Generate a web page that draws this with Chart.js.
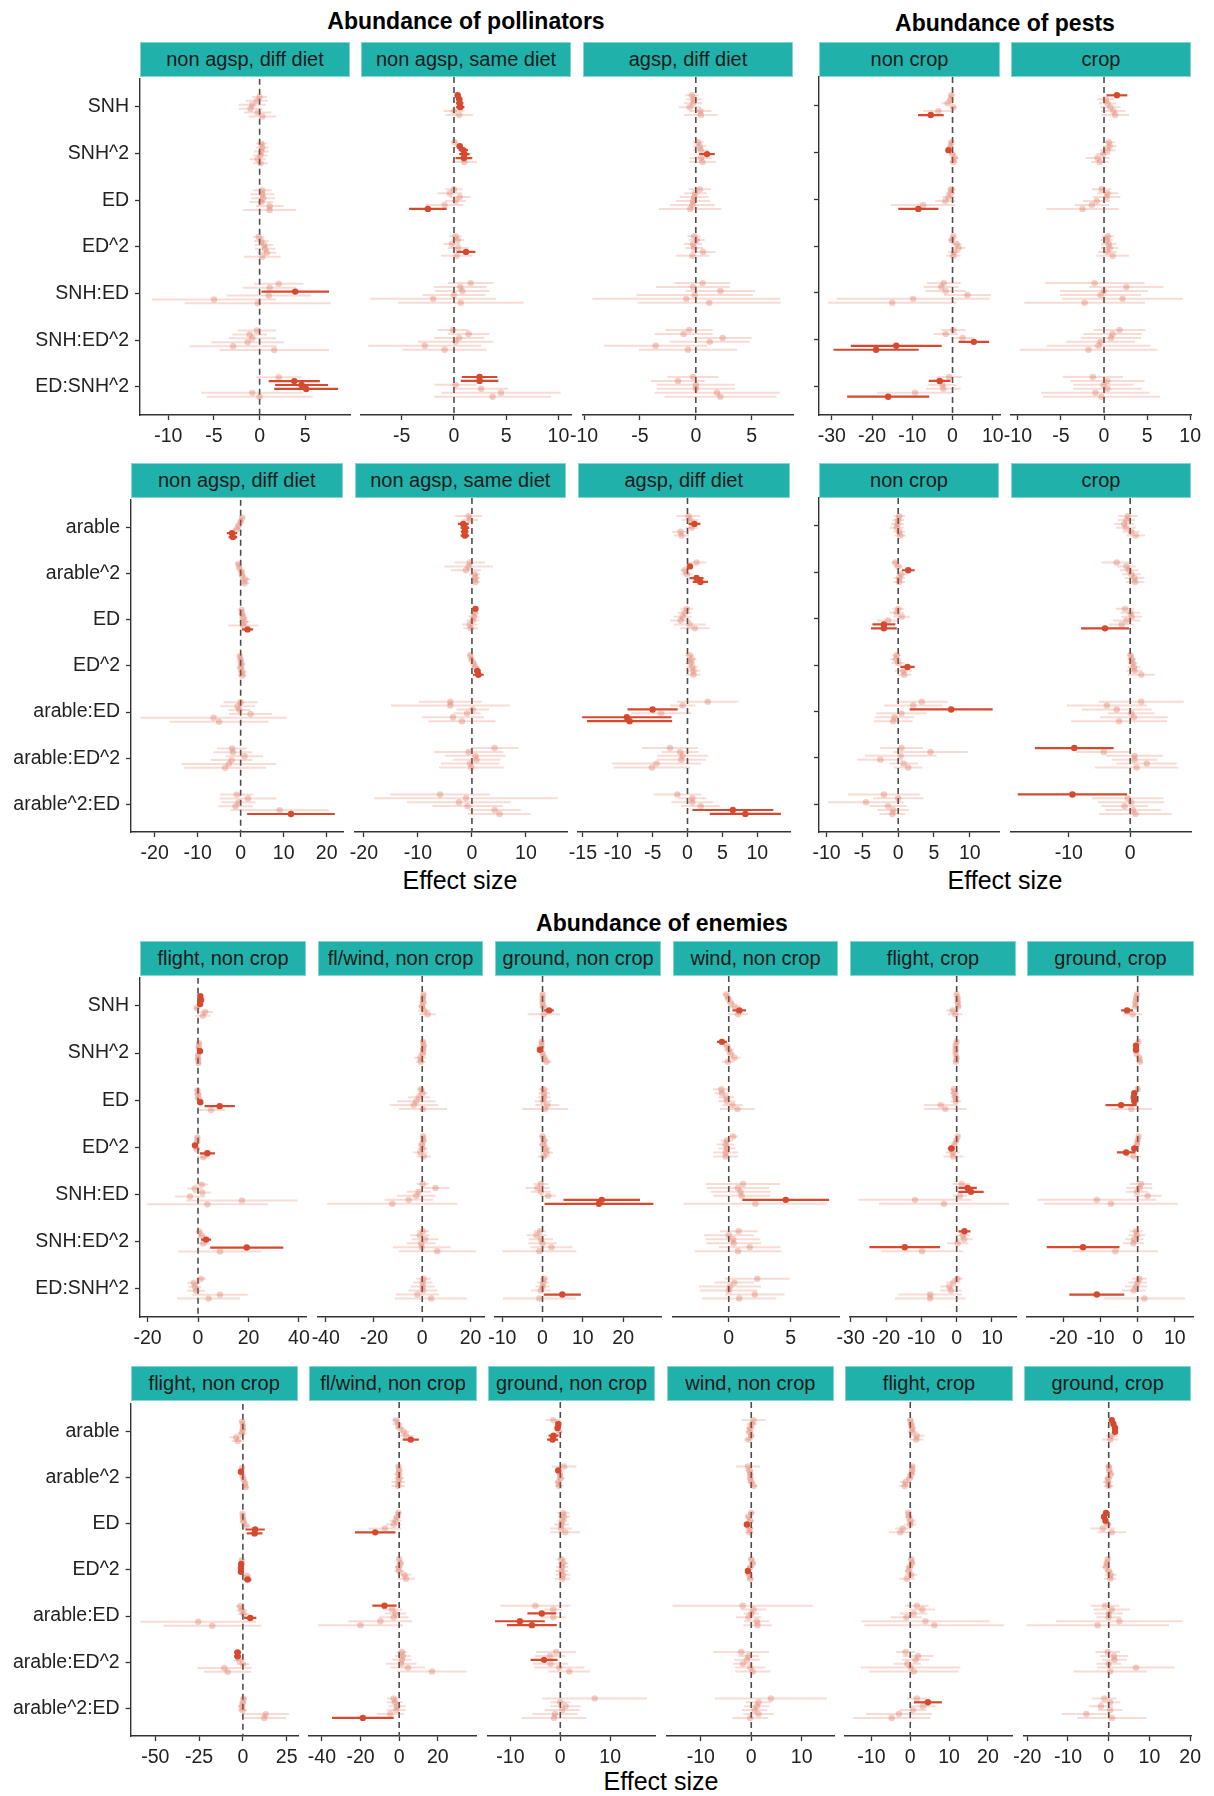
<!DOCTYPE html>
<html>
<head>
<meta charset="utf-8">
<script src="https://cdn.jsdelivr.net/npm/chart.js@4.4.1/dist/chart.umd.min.js"></script>
<style>
  body { margin: 0; background: #fff; }
  #page { position: relative; width: 1214px; height: 1796px; font-family: "Liberation Sans", Arial, sans-serif; overflow: hidden; }
  .title { position: absolute; font-weight: bold; font-size: 23px; line-height: 26px; color: #000; white-space: nowrap; transform: translateX(-50%); }
  .strip { position: absolute; background: #20b2aa; box-sizing: border-box; border: 1px solid #86d6cf; height: 35px;
           display: flex; align-items: center; justify-content: center; font-size: 20px; color: #1a1a1a; white-space: nowrap; }
  .axtitle { position: absolute; font-size: 25px; color: #000; white-space: nowrap; transform: translate(-50%, -50%); }
  canvas { position: absolute; }
</style>
</head>
<body>
<div id="page">
  <div class="title" style="left:466px;top:8px">Abundance of pollinators</div>
  <div class="title" style="left:1005px;top:10px">Abundance of pests</div>
  <div class="title" style="left:662px;top:910px">Abundance of enemies</div>
  <div class="axtitle" style="left:460px;top:880px">Effect size</div>
  <div class="axtitle" style="left:1005px;top:880px">Effect size</div>
  <div class="axtitle" style="left:661px;top:1781px">Effect size</div>
</div>
<script>
// model terms (y categories)
const termsSnh = ['SNH', 'SNH^2', 'ED', 'ED^2', 'SNH:ED', 'SNH:ED^2', 'ED:SNH^2'];
const termsArable = ['arable', 'arable^2', 'ED', 'ED^2', 'arable:ED', 'arable:ED^2', 'arable^2:ED'];

// facet labels
const polLabels = ['non agsp, diff diet', 'non agsp, same diet', 'agsp, diff diet'];
const pestLabels = ['non crop', 'crop'];
const eneLabels = ['flight, non crop', 'fl/wind, non crop', 'ground, non crop', 'wind, non crop', 'flight, crop', 'ground, crop'];

// estimates and CI half widths, 6 models per term, terms in order above
// --- pollinators, SNH models
const polSnh1Est = [0,-0.3,-0.8,-1.0,-0.2,0.3, 0.2,0.3,0.2,0.1,-0.2,0.1, 0.3,0.3,0.4,0.2,1.1,1.1, -0.1,0.2,0.5,0.6,0.8,0.3,
  2.1,1.1,3.9,1.0,-5.0,-0.2, -0.3,-1.1,-0.8,-1.3,-2.9,1.6, 2.1,3.8,4.6,5.1,-0.8,0];
const polSnh1Err = [0.8,1.2,1.5,1.3,1.5,1.5, 0.6,0.7,0.8,0.8,0.9,0.8, 1.0,1.3,1.3,1.3,1.5,2.9, 0.6,0.8,1.0,1.1,1.0,2.0,
  2.7,2.9,3.7,4.6,6.8,8.0, 2.1,1.9,2.6,4.0,4.8,6.0, 2.5,2.8,2.9,3.5,5.6,5.8];
const polSnh2Est = [0.35,0.5,0.55,0.6,0,0.5, 0.05,0.55,0.9,1.0,0.95,1.0, 0,-0.4,0.55,0.15,-0.9,-2.5, 0.15,0.35,-0.2,0.4,1.15,0.25,
  1.6,0.6,0.8,0,-2.0,0.65, -0.1,1.4,0.5,0.15,-2.8,-0.9, 2.45,2.45,0.15,2.6,4.5,3.7];
const polSnh2Err = [0.25,0.3,0.35,0.4,1.0,1.3, 0.3,0.3,0.45,0.5,0.8,1.2, 0.8,1.2,1.0,1.0,1.8,1.8, 0.6,0.6,0.8,1.0,0.9,1.5,
  2.2,2.5,2.6,3.0,6.0,6.0, 1.5,2.0,2.4,3.6,5.4,4.0, 1.7,1.8,2.0,2.6,5.7,5.6];
const polSnh3Est = [-0.35,-0.2,-0.25,-0.55,0.4,0.45, 0.2,0.35,0.45,1.0,0.45,0.6, 0.35,-0.05,-0.15,-0.25,-0.3,-0.5, -0.15,0.1,-0.25,-0.15,0.65,-0.3,
  0.6,-0.25,2.2,-0.1,-0.85,1.2, -0.6,-1.1,2.4,1.25,-3.6,-0.7, -0.25,-1.6,0,0,1.9,2.2];
const polSnh3Err = [0.6,0.7,0.8,1.0,1.0,1.5, 0.5,0.6,0.7,0.7,1.0,1.2, 1.0,1.0,1.3,1.5,2.0,2.8, 0.6,0.7,0.8,0.8,1.1,1.5,
  2.5,3.3,3.1,5.2,8.4,6.4, 2.1,2.6,2.6,3.6,4.6,4.4, 2.3,2.4,3.5,3.5,5.6,5.0];
// --- pests, SNH models
const pestSnh1Est = [-0.3,-0.5,-1.2,0.2,-3.5,-5.4, -0.3,-0.5,-1.0,0,0.5,0.2, -0.3,-0.5,-1.0,-1.8,-7.3,-8.5, 0.2,-0.2,1.0,1.5,0.4,0.2,
  -2.2,-2.8,-1.7,3.7,-9.8,-15, 0.2,-1.7,2.5,5.3,-14,-19, -0.8,-3.2,-2.5,-2.3,-9.3,-16];
const pestSnh1Err = [0.6,0.8,1.5,0.8,3.8,3.2, 0.5,0.6,0.7,0.8,1.0,1.0, 1.0,1.2,1.5,2.5,8.0,5.0, 0.6,0.8,1.2,1.7,1.5,1.8,
  4.2,4.3,5.0,5.8,19,16, 3.0,3.0,2.8,3.8,11.3,10.6, 3.2,2.7,3.5,4.3,9.5,10.2];
const pestSnh2Est = [1.5,0.2,0.4,0.75,1.1,1.3, 0.55,0.65,0.4,-0.1,-0.75,-0.5, -0.3,0.4,0.3,-0.85,-1.4,-2.5, 0.45,0.3,0.55,0.65,0.4,1.0,
  -1.1,2.6,0,-0.4,2.15,-2.25, 1.8,1.0,0.8,-0.4,-0.65,-1.8, -1.3,0.4,-0.05,0.4,-1.0,-0.3];
const pestSnh2Err = [1.2,1.0,1.0,1.2,1.4,1.6, 0.7,0.8,0.9,0.8,1.4,1.0, 1.1,1.2,1.6,1.6,2.0,4.2, 0.7,0.7,0.9,1.0,1.1,1.9,
  5.8,4.3,5.1,4.7,7.0,7.0, 3.0,3.4,3.5,4.0,6.0,8.0, 3.5,4.3,3.5,4.0,6.3,6.8];
// --- pollinators, arable models
const polAra1Est = [0.35,0,-0.5,-0.9,-2.0,-1.8, -0.55,-0.3,0.2,0.35,1.05,0.9, 0.2,0.35,0.6,0.9,0.6,1.6, -0.2,0,0.2,0,0.35,0.35,
  0,-0.7,-0.3,2.3,-6.3,-5.0, -2.0,-1.8,0.9,-2.1,-2.75,-3.6, -0.9,1.7,-0.5,-1.2,9.1,11.7];
const polAra1Err = [0.6,0.6,0.7,1.0,1.2,1.0, 0.7,0.6,0.7,0.8,1.2,1.1, 0.6,0.8,1.0,1.2,3.5,1.3, 0.5,0.6,0.8,0.9,1.0,1.0,
  4.0,4.0,2.5,5.0,17,11.5, 3.5,4.5,4.3,4.8,11,9.5, 3.8,6.6,4.0,4.0,11.4,10.2];
const polAra2Est = [-0.6,-0.4,-1.6,-1.3,-1.35,-1.3, -0.4,-0.6,-1.1,0.5,0.65,0.65, 0.65,0.5,0.35,0.15,-0.4,-0.2, -0.3,-0.1,0.3,0.65,1.0,1.2,
  -4.0,-4.0,0.15,-0.9,-3.5,-1.85, 4.2,-0.6,0.65,0.85,-0.35,-0.1, -5.9,-1.1,-2.4,-0.8,4.2,5.1];
const polAra2Err = [2.5,1.5,1.0,0.8,0.7,0.8, 2.8,4.5,2.8,1.0,0.8,0.8, 0.4,0.8,1.0,1.2,1.4,1.4, 0.4,0.4,0.5,0.75,0.6,1.0,
  5.8,11,3.0,2.5,5.7,6.2, 4.4,6.4,5.6,4.4,5.4,6.0, 9.2,17,9.6,6.5,4.8,5.8];
const polAra3Est = [0.15,0.4,1.0,0.6,-1.0,-0.85, 1.3,0.35,-0.4,-0.1,1.3,1.85, -0.1,-0.4,-0.7,-1.0,0.3,1.05, 0.3,0.6,0.4,0.7,0.85,0.85,
  2.9,-0.7,-5.0,-3.8,-8.7,-8.3, -2.5,-1.05,-0.7,-0.9,-4.45,-5.1, -1.45,0.7,0.7,1.9,6.5,8.3];
const polAra3Err = [1.7,1.2,0.85,0.9,1.2,1.1, 1.4,0.3,0.6,0.8,1.0,1.1, 0.9,1.0,1.3,1.5,2.3,2.1, 0.6,0.7,0.7,0.8,1.0,1.0,
  4.4,1.8,3.6,4.3,6.4,6.1, 4.0,2.6,3.6,3.5,6.4,5.5, 3.4,2.0,3.0,2.8,5.8,5.1];
// --- pests, arable models
const pestAra1Est = [0.15,0,-0.1,-0.2,0.15,0.3, -0.4,0,1.4,0.45,0.15,0.15, 0,-0.2,0.5,-1.4,-2.0,-2.0, -0.2,-0.3,0,1.3,0.7,0.85,
  3.3,2.1,7.4,0.45,-0.5,-0.7, 0.45,4.5,0.35,-2.5,0.75,1.4, -2.0,0,-4.5,-1.4,-0.7,-0.8];
const pestAra1Err = [0.8,0.8,0.9,1.0,0.8,0.8, 0.5,0.6,0.9,0.7,0.8,0.8, 0.8,1.0,1.2,1.5,1.6,1.8, 0.6,0.8,0.9,1.0,1.2,1.0,
  3.6,4.1,5.8,3.5,2.7,2.7, 3.0,5.2,5.0,3.2,2.0,2.0, 5.0,3.5,5.3,2.6,2.2,1.8];
const pestAra2Est = [-0.35,-0.6,-1.0,-0.7,0.15,0.9, -2.2,-0.6,-0.2,0.2,0.7,0.8, -0.85,0.05,0.25,-0.6,-1.4,-4.1, 0.05,0.25,0.4,0.6,0.7,1.8,
  1.8,-3.8,-2.2,0.15,0.6,-1.8, -9.1,-4.3,0.7,0.7,2.7,1.05, -9.4,-0.4,0.15,-0.9,0.45,0.85];
const pestAra2Err = [1.6,1.4,1.6,1.6,1.4,1.5, 2.5,1.5,1.5,1.5,1.6,1.5, 1.5,1.6,1.7,2.2,2.0,3.9, 0.5,0.7,0.8,1.0,1.3,2.2,
  6.9,6.5,5.7,3.8,5.5,7.8, 6.4,4.5,4.6,3.7,4.9,6.8, 8.9,5.8,5.4,3.8,4.5,5.9];
// --- enemies, SNH models
const eneSnh1Est = [0.9,1.2,0.8,-0.5,2.8,1.9, 0.4,0.25,0.8,0,0,0.2, -0.25,0,0.2,0.9,8.6,5.2, -0.25,-0.3,-1.2,-0.5,3.7,2.1,
  1.5,-1.3,1.7,-3.2,17.4,3.7, 0.5,1.5,3.2,2.1,19.3,8.7, 1.2,-1.6,-1.2,-0.7,8.7,4.2];
const eneSnh1Err = [0.5,0.6,0.6,1.0,3.0,3.0, 1.0,1.2,0.6,1.0,1.2,1.0, 1.2,1.5,1.6,0.8,6.0,5.5, 1.0,1.1,0.8,1.3,3.0,2.5,
  2.5,3.0,3.5,6.0,22,24, 1.0,1.6,2.0,2.5,14.5,16.5, 2.0,2.5,2.5,3.5,11,12.5];
const eneSnh2Est = [0.5,0.3,0.4,-0.1,0.8,2.2, 0.3,0.6,0.4,0.2,-0.8,-0.6, -0.5,0.1,-1.4,-2.5,-3.5,0.3, 0.3,0.5,-0.2,0.2,-0.8,0.6,
  0.2,5.5,-1.5,-2.5,-5.6,-12.4, 0.3,-1.0,1.2,-0.5,-0.2,6.2, 0.5,0.2,0.2,0.3,-2.0,3.7];
const eneSnh2Err = [1.0,1.2,1.5,1.5,2.5,3.5, 1.0,1.2,1.2,1.5,2.5,2.0, 1.5,2.0,4.5,8,10,10, 1,1.2,1.5,2,3,3,
  2.5,5.8,5,8,10,27, 2.5,4,5.5,6,12,16, 3,4,5,6,9,15];
const eneSnh3Est = [0,0,0,0.15,1.6,0.3, -0.25,-0.25,-0.65,0,0.4,1.0, 0.3,0.4,0.4,0.15,1.2,0.6, 0,0.4,0.15,0.75,1.0,0.3,
  -0.4,-1.25,-0.4,1.4,14.7,14.0, -0.65,-1.5,-0.4,0,2.2,-0.8, 0.4,0.15,0,-0.4,4.9,-0.8];
const eneSnh3Err = [0.5,0.6,0.7,1.0,1.2,4.0, 0.6,0.6,0.5,0.7,1.0,1.2, 1.2,1.5,1.6,2.0,3.0,5.7, 0.8,1.0,1.2,1.3,1.6,1.5,
  1.8,3.0,2.5,2.0,9.5,13.5, 1.5,2.5,3.0,3.5,5.2,9.2, 1.0,1.5,1.8,2.5,4.6,9.0];
const eneSnh4Est = [-0.2,-0.05,0.15,0.45,0.85,0.75, -0.55,-0.15,0,0.15,0.45,-0.05, -0.6,-0.55,-0.2,-0.15,0.3,0.7, 0.35,-0.15,-0.25,-0.15,-0.25,-0.25,
  1.15,0.75,0.95,1.05,4.6,2.15, 0.8,0,0.35,0.4,1.7,0.75, 2.3,0.45,0.1,0,2.1,0.85];
const eneSnh4Err = [0.3,0.3,0.3,0.5,0.55,0.8, 0.4,0.3,0.4,0.3,0.5,0.5, 0.7,0.6,0.6,0.7,0.8,1.4, 0.4,0.5,0.7,0.7,1.0,1.0,
  3.0,2.5,2.4,2.3,3.5,5.8, 1.5,2.0,2.2,2.2,2.5,3.5, 2.6,1.6,2.5,2.3,2.4,3.0];
const eneSnh5Est = [0,0.3,0.3,0.45,-1.1,-0.4, 0,-0.3,-0.3,-0.3,0,-0.2, -0.75,-0.65,-0.4,-0.2,-4.5,-3.2, 0.3,-0.1,-0.65,-1.5,-1.1,-0.95,
  1.4,3.1,4.05,0.95,-11.8,-3.6, 2.2,1.7,2.1,0.3,-14.7,-9.8, 0.2,-0.95,-2.1,-1.6,-7.5,-7.5];
const eneSnh5Err = [0.5,0.6,0.8,0.8,1.8,2.0, 0.5,0.4,0.5,0.5,0.6,0.7, 1.0,1.2,1.2,1.5,4.8,6.0, 0.6,0.8,0.7,1.0,2.0,2.8,
  2.5,2.6,3.6,2.0,16,18.4, 1.7,2.0,2.4,3.0,10,11.5, 1.5,2.0,2.5,3.0,9,10];
const eneSnh6Est = [-0.2,-0.45,-0.6,-0.6,-2.85,-1.35, 0.25,-0.45,-0.45,-0.3,0.45,0.6, 0,-0.9,-1.05,-0.9,-4.45,-1.7, 0.25,0,-0.2,-0.9,-3.1,-1.05,
  0.9,0.45,-0.2,2.7,-11,-7.2, -0.45,-0.2,-0.9,-1.15,-14.7,-6.0, 0.45,0,-0.45,-1.05,-11,1.8];
const eneSnh6Err = [0.6,0.7,0.8,0.9,1.6,2.5, 0.3,0.35,0.4,0.5,0.6,0.7, 0.5,0.5,0.6,0.6,4.2,5.5, 0.5,0.6,0.8,0.7,2.5,2.0,
  3.0,3.5,3.0,3.8,16,18, 1.8,2.3,2.5,2.8,9.8,11.5, 2.0,2.5,3.0,3.2,7.4,11];
// --- enemies, arable models
const eneAra1Est = [-0.4,0,0,-0.6,-3.8,-2.9, -0.4,-1.1,-0.2,0.4,1.3,1.5, -0.2,0,0.4,1.7,7.0,6.7, -0.6,-0.95,-1.1,-1.1,2.3,2.7,
  -1.5,-0.6,0.4,4.2,-25.5,-17.5, -3.0,-3.0,-2.1,0,-10.6,-8.7, 0.4,0,-0.6,-0.2,13,12.2];
const eneAra1Err = [1.5,1.5,2.0,2.5,4.0,3.5, 1.0,0.8,1.0,1.5,1.5,2.0, 1.2,1.5,2.0,2.5,5.5,4.5, 0.7,0.8,0.8,0.9,2.5,2.2,
  2.5,3.0,3.2,3.5,33,28, 2.0,2.0,3.0,3.5,15.5,13.5, 1.8,2.0,2.2,2.5,13.5,12.5];
const eneAra2Est = [-1.55,-0.7,0.2,2.4,3.6,6.0, -0.35,0,-0.35,0,-0.35,-0.5, -0.35,-1.0,-1.9,-2.8,-7.4,-12.4, 0,0.7,-0.35,0,2.8,3.6,
  -7.6,-3.6,-1.9,-2.8,-9.7,-20, 1.4,1.9,1.4,1.0,4.5,17, -2.8,-2.2,-1.0,-1.55,-4.6,-18.8];
const eneAra2Err = [2.0,2.5,2.5,3.0,4.0,4.2, 1.0,1.5,2.0,2.5,3.5,3.5, 1.5,2.0,3.0,4.0,8.5,10.5, 1.0,1.5,2.0,2.5,3.5,4.5,
  6.3,5.0,5.5,7.5,16.5,22, 2.5,4.0,5.0,8.0,9.0,18, 3.5,4.0,4.5,5.0,7.0,16];
const eneAra3Est = [-1.4,-0.4,-0.55,-0.2,-1.35,-1.55, 0.75,-0.4,-0.05,0.05,-0.4,-0.25, 0.6,0.75,0.4,0.25,0.15,1.0, 0.25,0.6,0.4,0.25,0.55,0.4,
  -5.0,-1.4,-3.7,-1.4,-8.1,-5.7, -0.85,-2.05,-3.25,-1.95,-0.2,1.8, 6.9,0,1.05,0.4,-1.05,-1.25];
const eneAra3Err = [1.5,0.3,0.4,0.6,1.0,1.1, 2.5,0.35,0.6,0.8,0.7,0.8, 1.2,1.2,1.0,1.5,2.2,3.0, 1.0,1.0,1.2,1.3,1.5,1.5,
  7.0,1.8,2.9,2.5,5.0,5.0, 4.0,3.0,2.7,3.5,5.0,4.2, 10.5,2.0,3.0,3.5,4.5,6.5];
const eneAra4Est = [0.45,0.15,-0.2,-0.35,0,-0.55, -0.65,-0.35,-0.2,-0.2,0,0.45, 0,-0.55,-0.2,-0.85,-0.35,-0.35, 0,0.3,-0.2,-0.65,-0.4,-0.2,
  -1.7,0.45,0,-0.55,1.1,1.25, -2.0,-0.55,-0.85,-1.65,-0.2,0.3, 3.9,1.45,1.1,0.65,1.45,-0.2];
const eneAra4Err = [2.4,1.0,0.8,0.8,0.6,0.8, 2.4,0.8,0.6,0.6,0.7,0.8, 0.6,0.7,0.7,0.6,0.8,0.8, 0.6,0.6,0.7,0.5,0.7,0.7,
  13.9,2.5,1.5,2.5,2.5,2.8, 5.5,2.0,2.5,2.0,3.0,3.5, 11.1,2.5,2.5,2.5,3.0,3.5];
const eneAra5Est = [0,0.25,0.5,0.5,1.7,1.55, 0.5,0.5,0.25,-0.15,-1.2,-1.45, -0.5,-0.35,0.1,0,-1.9,-2.55, 0.25,0.45,-0.15,-0.45,0.25,-0.85,
  1.7,3.1,0.85,-1.0,3.9,6.2, -1.2,2.0,1.35,-0.75,0.1,0.95, 1.7,4.55,3.25,0.7,-2.9,-4.8];
const eneAra5Err = [0.8,0.8,1.0,1.2,2.0,1.8, 0.8,0.8,1.0,1.0,1.5,1.5, 0.8,1.0,1.2,1.5,2.0,3.0, 0.6,0.7,1.0,1.0,1.5,2.0,
  3.0,3.3,3.5,4.0,16.5,18, 2.5,4.0,3.5,3.5,12.8,11.5, 2.5,3.6,3.5,3.5,8.5,10];
const eneAra6Est = [0.75,1.15,1.55,1.55,0.75,0.35, 0,0.15,0.5,-0.1,-0.25,0, -0.65,-1.15,-0.8,-0.25,-1.45,0.75, -0.25,-0.5,-0.65,0,0.5,0.35,
  -0.9,0.75,0,0,2.6,-2.7, -0.25,1.3,1.4,0,6.7,0.35, -1.05,0.35,-1.9,0.35,-5.5,0.75];
const eneAra6Err = [0.5,0.5,0.5,0.6,1.5,2.0, 0.8,0.8,0.8,1.0,1.2,1.2, 0.4,0.5,0.5,1.0,3.0,3.5, 0.5,0.7,1.0,1.0,1.5,1.5,
  3.5,4.5,3.5,3.0,15.5,17.5, 3.0,3.5,3.0,3.0,9.5,9.0, 3.0,2.5,3.0,3.0,6.0,8.5];

// x-axis tick values per panel
const ticksPolSnh = [[-10,-5,0,5], [-5,0,5,10], [-10,-5,0,5]];
const ticksPestSnh = [[-30,-20,-10,0,10], [-10,-5,0,5,10]];
const ticksPolAra = [[-20,-10,0,10,20], [-20,-10,0,10], [-15,-10,-5,0,5,10]];
const ticksPestAra = [[-10,-5,0,5,10], [-10,0]];
const ticksEneSnh = [[-20,0,20,40], [-40,-20,0,20], [-10,0,10,20], [0,5], [-30,-20,-10,0,10], [-20,-10,0,10]];
const ticksEneAra = [[-50,-25,0,25], [-40,-20,0,20], [-10,0,10], [-10,0,10], [-10,0,10,20], [-20,-10,0,10,20]];

Chart.defaults.font.family = '"Liberation Sans", Arial, sans-serif';
const RED = 'rgb(213,74,46)';
const FADE_BAR = 'rgba(213,74,46,0.2)';
const FADE_PT = 'rgba(213,74,46,0.28)';
const TXT = '#222';
const dodge = [-0.21, -0.126, -0.042, 0.042, 0.126, 0.21];
const page = document.getElementById('page');

const rows = [
  { stripTop: 42, plotTop: 77, plotBottom: 415, terms: termsSnh },
  { stripTop: 463, plotTop: 498, plotBottom: 832, terms: termsArable },
  { stripTop: 941, plotTop: 976, plotBottom: 1317, terms: termsSnh },
  { stripTop: 1366, plotTop: 1401.5, plotBottom: 1735, terms: termsArable }
];

const panels = [
  { row: 0, label: polLabels[0], l: 140, r: 350, min: -13.1, max: 9.9, ticks: ticksPolSnh[0], est: polSnh1Est, err: polSnh1Err, y: 'labels' },
  { row: 0, label: polLabels[1], l: 361, r: 571, min: -8.9, max: 11.2, ticks: ticksPolSnh[1], est: polSnh2Est, err: polSnh2Err, y: 'none' },
  { row: 0, label: polLabels[2], l: 583, r: 793, min: -10.1, max: 8.7, ticks: ticksPolSnh[2], est: polSnh3Est, err: polSnh3Err, y: 'none' },
  { row: 0, label: pestLabels[0], l: 819, r: 1000, min: -33.2, max: 11.8, ticks: ticksPestSnh[0], est: pestSnh1Est, err: pestSnh1Err, y: 'line' },
  { row: 0, label: pestLabels[1], l: 1011, r: 1191, min: -10.8, max: 10.1, ticks: ticksPestSnh[1], est: pestSnh2Est, err: pestSnh2Err, y: 'none' },

  { row: 1, label: polLabels[0], l: 131, r: 342.5, min: -25.5, max: 23.8, ticks: ticksPolAra[0], est: polAra1Est, err: polAra1Err, y: 'labels' },
  { row: 1, label: polLabels[1], l: 354.5, r: 566, min: -21.65, max: 17.6, ticks: ticksPolAra[1], est: polAra2Est, err: polAra2Err, y: 'none' },
  { row: 1, label: polLabels[2], l: 578, r: 789.5, min: -15.7, max: 14.7, ticks: ticksPolAra[2], est: polAra3Est, err: polAra3Err, y: 'none' },
  { row: 1, label: pestLabels[0], l: 819, r: 999, min: -11.06, max: 14.08, ticks: ticksPestAra[0], est: pestAra1Est, err: pestAra1Err, y: 'line' },
  { row: 1, label: pestLabels[1], l: 1011, r: 1191, min: -19.4, max: 9.9, ticks: ticksPestAra[1], est: pestAra2Est, err: pestAra2Err, y: 'none' },

  { row: 2, label: eneLabels[0], l: 140, r: 306, min: -23, max: 42.8, ticks: ticksEneSnh[0], est: eneSnh1Est, err: eneSnh1Err, y: 'labels' },
  { row: 2, label: eneLabels[1], l: 317.7, r: 483.3, min: -43.2, max: 25.6, ticks: ticksEneSnh[1], est: eneSnh2Est, err: eneSnh2Err, y: 'none' },
  { row: 2, label: eneLabels[2], l: 495.3, r: 661, min: -11.8, max: 29.4, ticks: ticksEneSnh[2], est: eneSnh3Est, err: eneSnh3Err, y: 'none' },
  { row: 2, label: eneLabels[3], l: 672.7, r: 838.3, min: -4.5, max: 8.9, ticks: ticksEneSnh[3], est: eneSnh4Est, err: eneSnh4Err, y: 'none' },
  { row: 2, label: eneLabels[4], l: 850, r: 1016, min: -30.2, max: 16.8, ticks: ticksEneSnh[4], est: eneSnh5Est, err: eneSnh5Err, y: 'none' },
  { row: 2, label: eneLabels[5], l: 1027.3, r: 1193.7, min: -29.8, max: 14.9, ticks: ticksEneSnh[5], est: eneSnh6Est, err: eneSnh6Err, y: 'none' },

  { row: 3, label: eneLabels[0], l: 130.7, r: 297.7, min: -64.1, max: 31.5, ticks: ticksEneAra[0], est: eneAra1Est, err: eneAra1Err, y: 'labels' },
  { row: 3, label: eneLabels[1], l: 309.3, r: 476.7, min: -46.7, max: 39.8, ticks: ticksEneAra[1], est: eneAra2Est, err: eneAra2Err, y: 'none' },
  { row: 3, label: eneLabels[2], l: 488, r: 655, min: -14.5, max: 19.0, ticks: ticksEneAra[2], est: eneAra3Est, err: eneAra3Err, y: 'none' },
  { row: 3, label: eneLabels[3], l: 666.7, r: 834, min: -16.7, max: 16.4, ticks: ticksEneAra[3], est: eneAra4Est, err: eneAra4Err, y: 'none' },
  { row: 3, label: eneLabels[4], l: 845.3, r: 1012.7, min: -16.8, max: 26.2, ticks: ticksEneAra[4], est: eneAra5Est, err: eneAra5Err, y: 'none' },
  { row: 3, label: eneLabels[5], l: 1024, r: 1191.3, min: -20.8, max: 20.2, ticks: ticksEneAra[5], est: eneAra6Est, err: eneAra6Err, y: 'none' }
];

function makePanel(p) {
  const row = rows[p.row];
  const plotW = p.r - p.l;
  const plotH = row.plotBottom - row.plotTop;

  // facet strip
  const strip = document.createElement('div');
  strip.className = 'strip';
  strip.style.left = p.l + 'px';
  strip.style.top = row.stripTop + 'px';
  strip.style.width = plotW + 'px';
  strip.textContent = p.label;
  page.appendChild(strip);

  const padL = p.y === 'labels' ? 0 : 24;
  const axisW = p.y === 'labels' ? p.l : (p.y === 'line' ? 6 : 0);
  const padR = 24, padT = 16, xAxisH = 44;
  const cw = Math.round(padL + axisW + plotW + padR);
  const ch = Math.round(padT + plotH + xAxisH);
  const cv = document.createElement('canvas');
  cv.width = cw; cv.height = ch;
  cv.style.left = (p.l - axisW - padL) + 'px';
  cv.style.top = (row.plotTop - padT) + 'px';
  cv.style.width = cw + 'px'; cv.style.height = ch + 'px';
  page.appendChild(cv);

  const darkPts = [], fadePts = [], darkBars = [], fadeBars = [];
  p.est.forEach((v, i) => {
    const y = Math.floor(i / 6) + 1 + dodge[i % 6];
    const lo = v - p.err[i], hi = v + p.err[i];
    const sig = lo > 0 || hi < 0;
    (sig ? darkPts : fadePts).push({ x: v, y: y });
    (sig ? darkBars : fadeBars).push({ x: lo, y: y }, { x: hi, y: y }, { x: hi, y: null });
  });

  new Chart(cv, {
    type: 'scatter',
    data: {
      datasets: [
        { data: darkPts, pointRadius: 3.2, pointBackgroundColor: RED, pointBorderWidth: 0 },
        { data: darkBars, showLine: true, borderColor: RED, borderWidth: 2.2, pointRadius: 0, spanGaps: false },
        { data: fadePts, pointRadius: 3.2, pointBackgroundColor: FADE_PT, pointBorderWidth: 0 },
        { data: fadeBars, showLine: true, borderColor: FADE_BAR, borderWidth: 2, pointRadius: 0, spanGaps: false },
        { data: [{ x: 0, y: 0.4 }, { x: 0, y: 7.6 }], showLine: true, borderColor: '#4d4d4d', borderWidth: 1.6,
          borderDash: [6, 4], pointRadius: 0 }
      ]
    },
    options: {
      responsive: false,
      animation: false,
      devicePixelRatio: 1,
      events: [],
      layout: { padding: { left: padL, right: padR, top: padT, bottom: 0 } },
      plugins: { legend: { display: false }, tooltip: { enabled: false } },
      scales: {
        x: {
          type: 'linear', position: 'bottom', min: p.min, max: p.max,
          afterBuildTicks: s => { s.ticks = p.ticks.map(v => ({ value: v })); },
          afterFit: s => { s.height = xAxisH; },
          grid: { drawOnChartArea: false, drawTicks: true, tickLength: 5, tickColor: '#333', tickWidth: 1.3 },
          border: { display: true, color: '#333', width: 1.4 },
          ticks: { autoSkip: false, maxRotation: 0, minRotation: 0, padding: 5, color: TXT,
                   font: { size: 19.5 }, callback: v => String(v) }
        },
        y: {
          type: 'linear', position: 'left', reverse: true, min: 0.4, max: 7.6,
          display: p.y !== 'none',
          afterBuildTicks: s => { s.ticks = row.terms.map((t, i) => ({ value: i + 1 })); },
          afterFit: s => { s.width = axisW; },
          grid: { drawOnChartArea: false, drawTicks: true, tickLength: 5, tickColor: '#333', tickWidth: 1.3 },
          border: { display: true, color: '#333', width: 1.4 },
          ticks: { display: p.y === 'labels', padding: 6, color: TXT, font: { size: 19.5 },
                   callback: v => row.terms[v - 1] }
        }
      }
    }
  });
}

panels.forEach(makePanel);
</script>
</body>
</html>
